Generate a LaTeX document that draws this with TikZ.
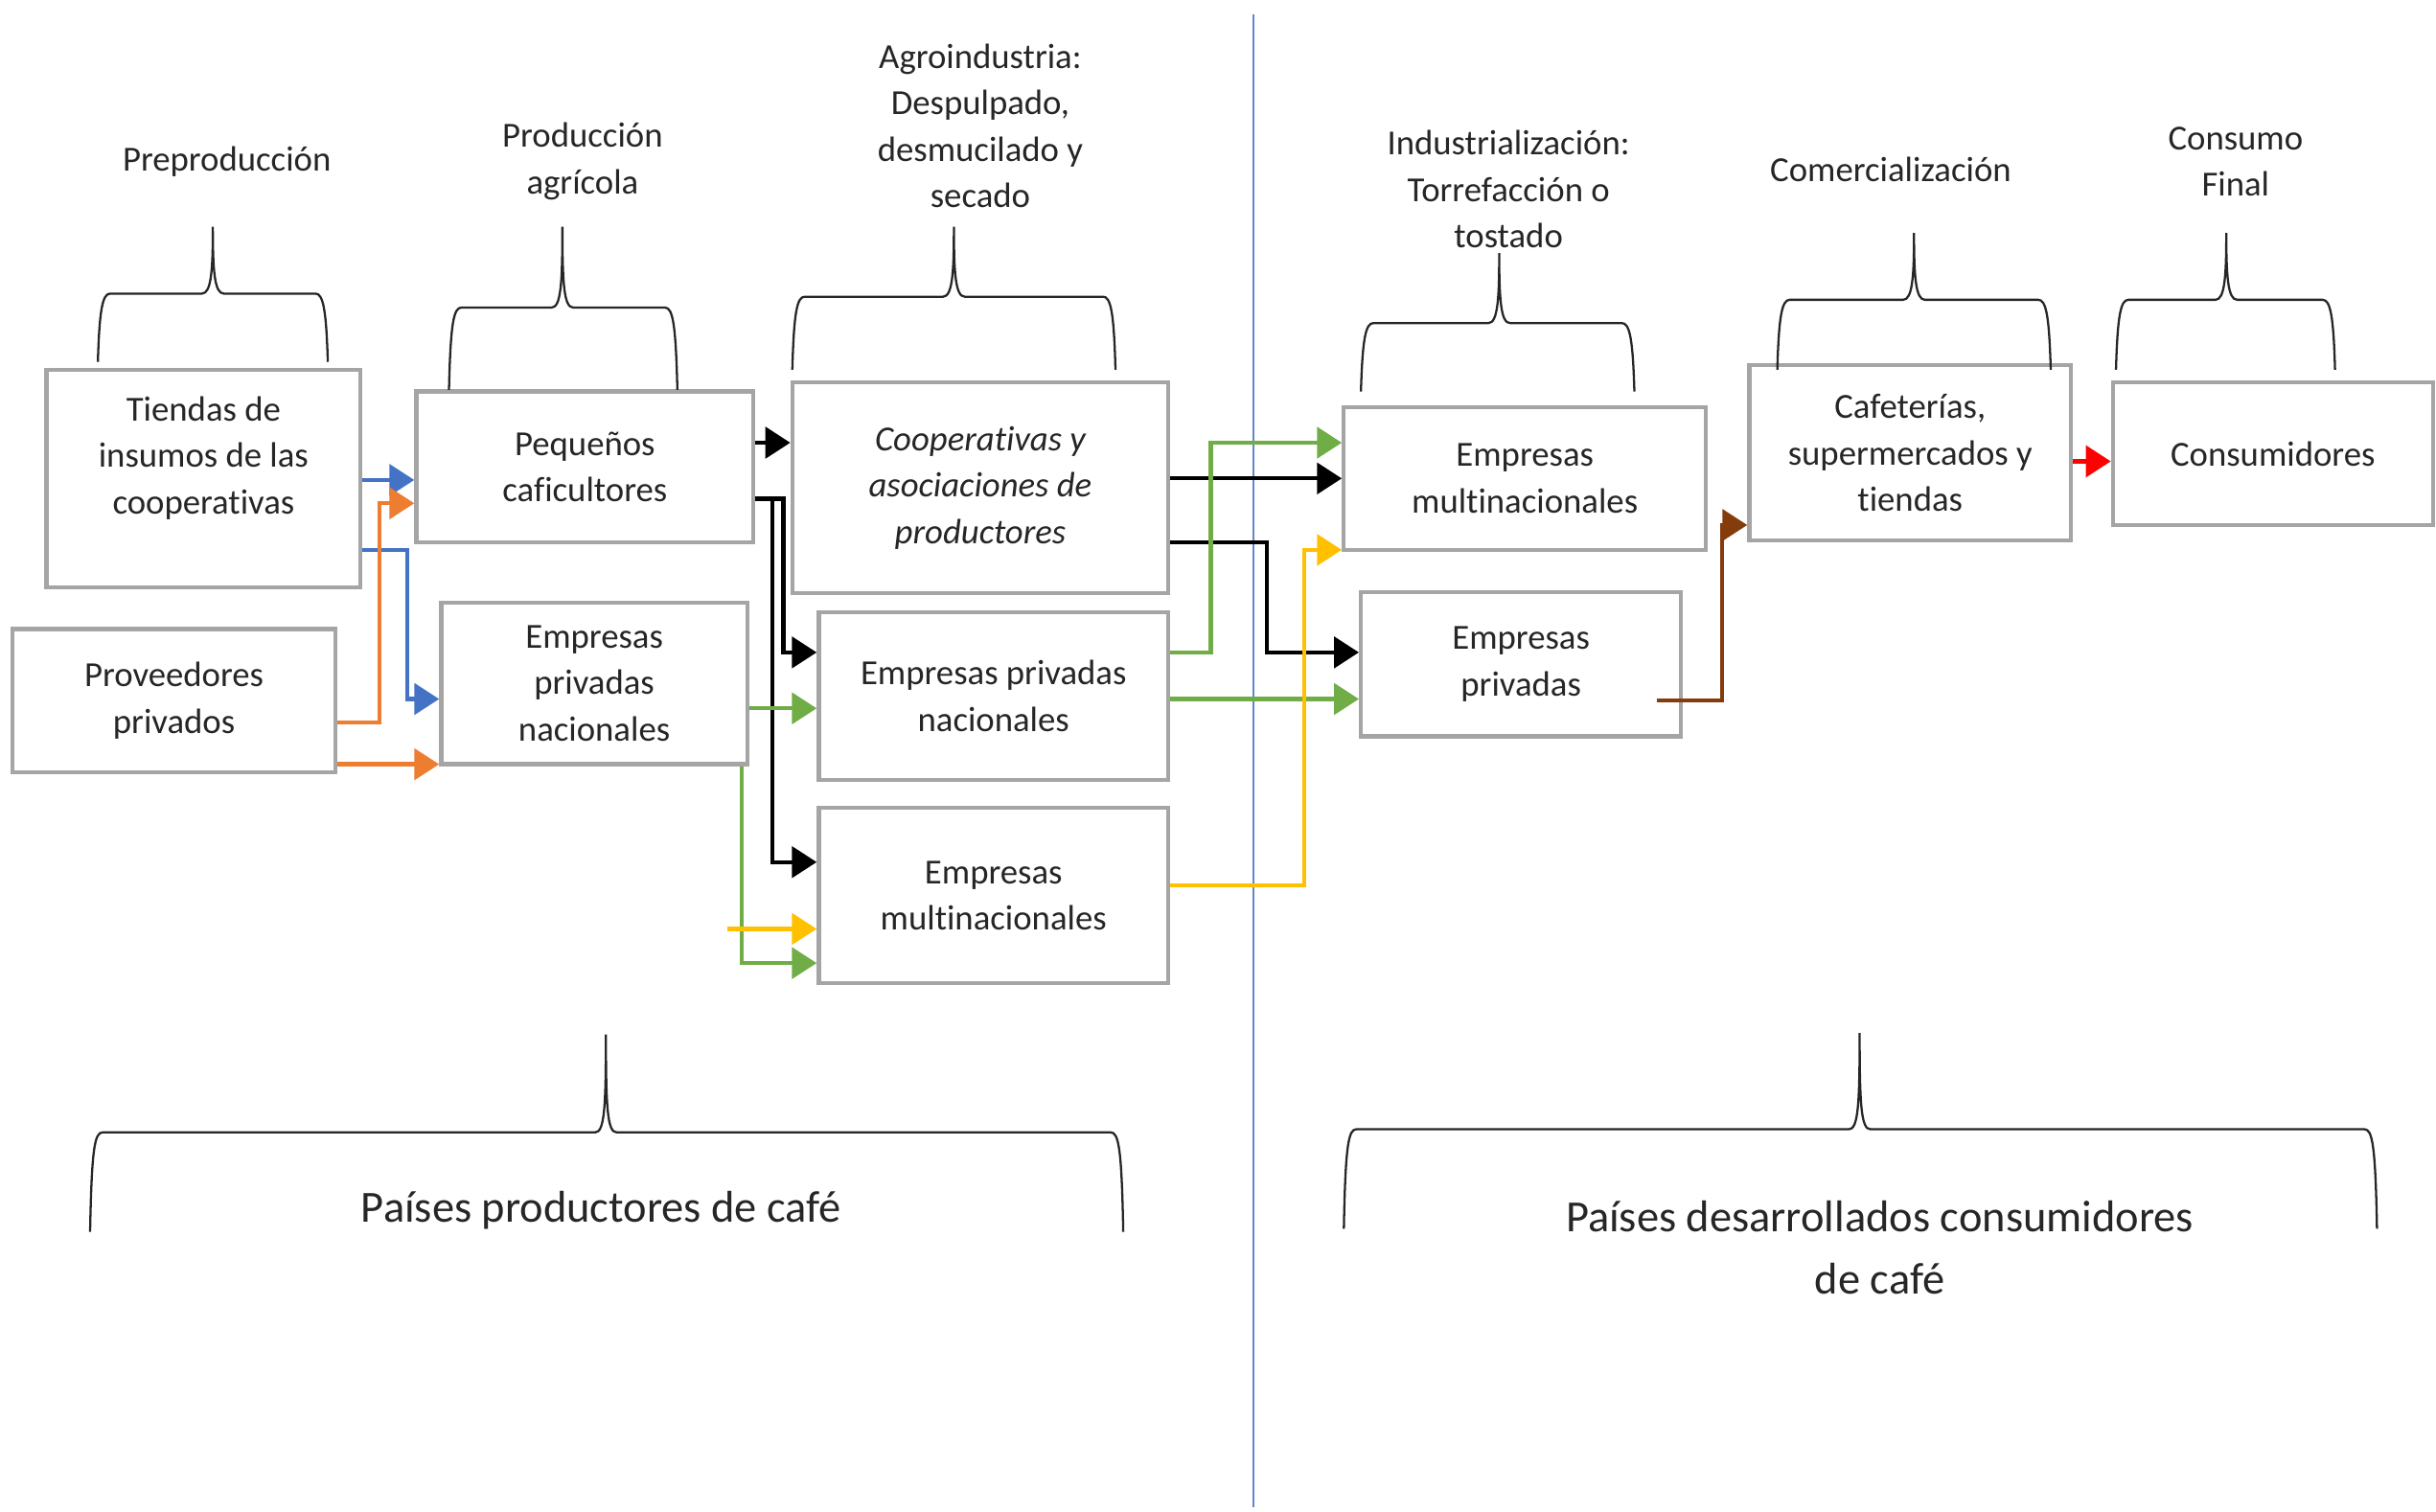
\documentclass[tikz,border=0pt]{standalone}
\usepackage{fontspec}
\setmainfont{Carlito}[Ligatures=NoCommon]
\usetikzlibrary{arrows.meta,calc}

\definecolor{azul}{HTML}{4472C4}
\definecolor{naranja}{HTML}{ED7D31}
\definecolor{verde}{HTML}{70AD47}
\definecolor{amarillo}{HTML}{FFC000}
\definecolor{marron}{HTML}{843C0C}
\definecolor{rojo}{HTML}{FF0000}
\definecolor{gris}{HTML}{A5A5A5}

\begin{document}
\begin{tikzpicture}[x=0.2mm,y=-0.2mm]
    \tikzset{>={Triangle[length=3.2mm,width=4mm]},
      caja/.style={draw=gris,line width=1.5pt,fill=white,align=center,inner sep=2pt,
        font=\fontsize{12.9}{17}\selectfont,text=black!85},
      etiqueta/.style={align=center,font=\fontsize{12.9}{17}\selectfont,text=black!85},
      grande/.style={align=center,font=\fontsize{16.3}{22.8}\selectfont,text=black!85},
      flecha/.style={->,line width=1.5pt},
      llave/.style={line width=0.8pt,black!85}}
    \useasboundingbox (0,0) rectangle (1568,973);

    % separador
    \coordinate (sepA) at (807,9);
    \coordinate (sepB) at (807,970);
    \draw[azul!85,line width=0.8pt] (sepA) -- (sepB);

    % cajas
    \node[caja,minimum width=40.4mm,minimum height=28mm] (tiendas) at (131,308) {Tiendas de\\insumos de las\\cooperativas\\~};
    \node[caja,minimum width=41.6mm,minimum height=18.4mm] (proveedores) at (112,451) {Proveedores\\privados};
    \node[caja,minimum width=43.4mm,minimum height=19.4mm] (pequenos) at (376.5,300.5) {Pequeños\\caficultores};
    \node[caja,minimum width=39.4mm,minimum height=20.8mm] (privadasA) at (382.5,440) {Empresas\\privadas\\nacionales};
    \node[caja,minimum width=48.4mm,minimum height=27.2mm,font=\fontsize{12.9}{17}\selectfont\itshape] (coop) at (631,314) {Cooperativas y\\asociaciones de\\productores};
    \node[caja,minimum width=45mm,minimum height=21.6mm] (privadasB) at (639.5,448) {Empresas privadas\\nacionales};
    \node[caja,minimum width=45mm,minimum height=22.6mm] (multiA) at (639.5,576.5) {Empresas\\multinacionales};
    \node[caja,minimum width=46.6mm,minimum height=18.4mm] (multiB) at (981.5,308) {Empresas\\multinacionales};
    \node[caja,minimum width=41.2mm,minimum height=18.6mm] (privadasC) at (979,427.5) {Empresas\\privadas};
    \node[caja,minimum width=41.4mm,minimum height=22.6mm] (cafeterias) at (1229.5,291.5) {Cafeterías,\\supermercados y\\tiendas};
    \node[caja,minimum width=41.2mm,minimum height=18.4mm] (consumidores) at (1463,292) {Consumidores};

    % azul
    \draw[flecha,azul] ($(tiendas.east)+(0,1)$) coordinate (a1) -- (a1 -| pequenos.west);
    \draw[flecha,azul] ($(tiendas.east)+(0,46)$) -- ++(29,0) |- ($(privadasA.west)+(0,10)$);
    % naranja
    \draw[flecha,naranja] ($(proveedores.east)+(0,14)$) -- ++(27,0) |- ($(pequenos.west)+(0,23.5)$);
    \draw[flecha,naranja] ($(proveedores.east)+(0,41)$) coordinate (n2) -- (n2 -| privadasA.west);
    % negro
    \draw[flecha] ($(pequenos.east)+(0,-15.5)$) coordinate (k1) -- (k1 -| coop.west);
    \draw[flecha] ($(pequenos.east)+(0,20.5)$) -- ++(18,0) |- ($(privadasB.west)+(0,-28)$);
    \draw[flecha] ($(pequenos.east)+(0,20.5)$) -- ++(11,0) |- ($(multiA.west)+(0,-21.5)$);
    \draw[flecha] ($(coop.east)+(0,-6)$) coordinate (k4) -- (k4 -| multiB.west);
    \draw[flecha] ($(coop.east)+(0,35)$) -- ++(62,0) |- ($(privadasC.west)+(0,-7.5)$);
    % verde
    \draw[flecha,verde] ($(privadasA.east)+(0,16)$) coordinate (v1) -- (v1 -| privadasB.west);
    \draw[flecha,verde] ($(privadasA.south east)+(-5,0)$) |- ($(multiA.west)+(0,43.5)$);
    \draw[flecha,verde] ($(privadasB.east)+(0,-28)$) -- ++(26,0) |- ($(multiB.west)+(0,-23)$);
    \draw[flecha,verde] ($(privadasB.east)+(0,2)$) coordinate (v4) -- (v4 -| privadasC.west);
    % amarillo
    \coordinate (y0) at (468,598);
    \draw[flecha,amarillo] (y0) -- (y0 -| multiA.west);
    \draw[flecha,amarillo] ($(multiA.east)+(0,-6.5)$) -- ++(86,0) |- ($(multiB.west)+(0,46)$);
    % marron y rojo
    \draw[flecha,marron] ($(privadasC.east)+(-17,23.5)$) -- ++(42,0) |- ($(cafeterias.west)+(0,46.5)$);
    \draw[flecha,rojo] ($(cafeterias.east)+(0,5.5)$) coordinate (r1) -- (r1 -| consumidores.west);

    % llaves
    \foreach \xa/\xb/\xm/\yt/\yh/\ye in {63/211/137/146/189/233, 289/436/362/146/198/251,
        510/718/614/146/191/238, 876/1052/965/163/208/252, 1144/1320/1232/150/193/238,
        1362/1503/1433/150/193/238, 58/723/390/666/729/793, 865/1530/1197/665/727/791}
      \draw[llave] (\xa,\ye) .. controls (\xa+1,\yh+10) and (\xa+3,\yh) .. (\xa+8,\yh)
        -- (\xm-7,\yh) .. controls (\xm-1,\yh) and (\xm,\yh-15) .. (\xm,\yt)
        .. controls (\xm,\yh-15) and (\xm+1,\yh) .. (\xm+7,\yh)
        -- (\xb-8,\yh) .. controls (\xb-3,\yh) and (\xb-1,\yh+10) .. (\xb,\ye);

    % etiquetas
    \node[etiqueta] (pre) at (146,104) {Preproducción};
    \node[etiqueta] (prod) at (375,104) {Producción\\agrícola};
    \node[etiqueta] (agro) at (631,81) {Agroindustria:\\Despulpado,\\desmucilado y\\secado};
    \node[etiqueta] (ind) at (971,122) {Industrialización:\\Torrefacción o\\tostado};
    \node[etiqueta] (com) at (1217,109) {Comercialización};
    \node[etiqueta] (final) at (1439,104) {Consumo\\Final};
    \node[grande] (productores) at (387,779) {Países productores de café};
    \node[grande] (desarrollados) at (1210,803) {Países desarrollados consumidores\\de café};
\end{tikzpicture}
\end{document}
